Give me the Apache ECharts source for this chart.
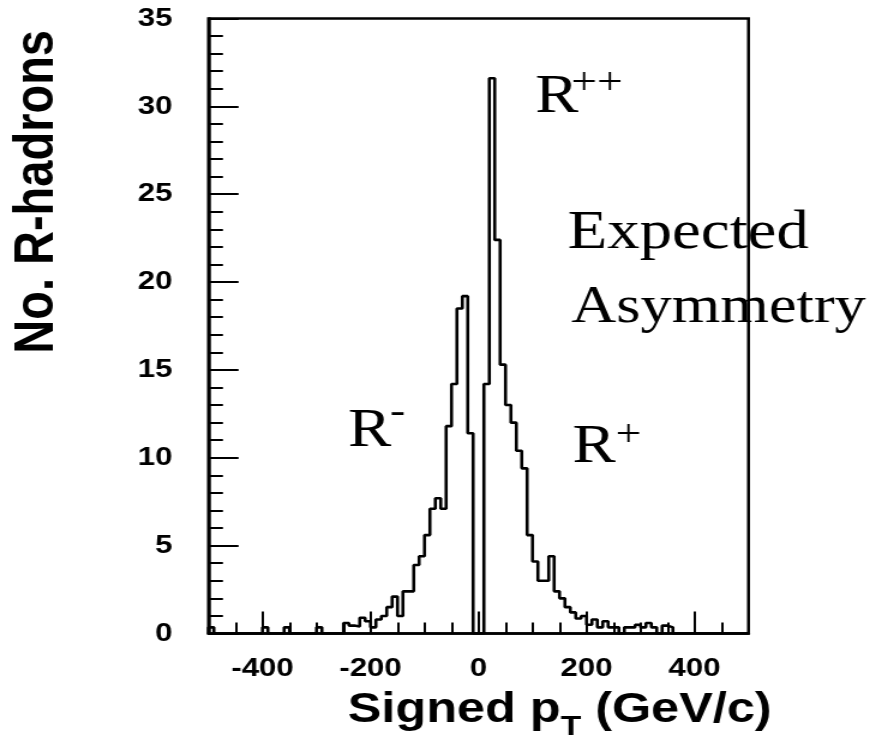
<!DOCTYPE html>
<html>
<head>
<meta charset="utf-8">
<script src="https://cdn.jsdelivr.net/npm/echarts@6/dist/echarts.min.js"></script>
<style>
  html, body { margin: 0; padding: 0; background: #fff; overflow: hidden; }
  #wrap { width: 888px; height: 753px; overflow: hidden; }
  /* the figure is drawn narrow and widened horizontally */
  #chart { width: 740px; height: 753px; transform: scaleX(1.2); transform-origin: 0 0; }
</style>
</head>
<body>
<div id="wrap"><div id="chart"></div></div>
<script>
// Histogram binning (signed pT, GeV/c)
const binLow = -500;
const binWidth = 10;

// Entries per 10 GeV/c bin, from -500 to +500
const counts = [
  0.35, 0, 0, 0, 0, 0, 0, 0, 0, 0,          // -500 .. -400
  0.35, 0, 0, 0, 0.35, 0, 0, 0, 0, 0,       // -400 .. -300
  0.35, 0, 0, 0, 0, 0.6, 0.45, 0.4, 0.9, 0.7, // -300 .. -200
  0.35, 0.8, 1.0, 1.5, 2.1, 1.0, 2.4, 2.4, 3.9, 4.4, // -200 .. -100
  5.6, 7.1, 7.7, 7.1, 11.8, 14.2, 18.5, 19.2, 11.4, 0, // -100 .. 0
  0, 14.2, 31.6, 22.4, 15.3, 13.0, 12.0, 10.4, 9.4, 5.6, // 0 .. 100
  4.1, 3.0, 3.0, 4.4, 2.4, 2.0, 1.5, 1.2, 0.85, 1.0,     // 100 .. 200
  0.5, 0.8, 0.35, 0.7, 0.35, 0.35, 0, 0.35, 0.35, 0.5,   // 200 .. 300
  0.35, 0.6, 0.35, 0, 0.45, 0.35, 0, 0, 0, 0,            // 300 .. 400
  0, 0, 0, 0, 0, 0, 0, 0, 0, 0                           // 400 .. 500
];

const xLabelValues = [-400, -200, 0, 200, 400];
const yMax = 35;
const yStep = 5;

// Step outline points: left edge of every bin, closed at the upper edge
const outline = [[binLow, 0]];
counts.forEach((c, i) => outline.push([binLow + i * binWidth, c]));
outline.push([binLow + counts.length * binWidth, counts[counts.length - 1]]);

const tickFont = { color: '#000', fontFamily: 'Liberation Sans', fontWeight: 'bold', fontSize: 26 };
const serif = '"Liberation Serif", "Times New Roman", serif';

const chart = echarts.init(document.getElementById('chart'), null, { renderer: 'canvas' });

chart.setOption({
  animation: false,
  backgroundColor: '#fff',
  grid: {
    left: 173.75, right: 116.25, top: 18.5, bottom: 119.5,
    show: true, borderColor: '#000', borderWidth: 2.5, backgroundColor: 'transparent'
  },
  xAxis: [
    {
      type: 'value', min: binLow, max: binLow + counts.length * binWidth, interval: 50,
      axisLine: { show: true, onZero: false, lineStyle: { color: '#000', width: 2.5 } },
      axisTick: { show: true, inside: true, length: 11, lineStyle: { color: '#000', width: 2 } },
      axisLabel: Object.assign({ margin: 22, formatter: v => xLabelValues.includes(v) ? String(v) : '' }, tickFont),
      splitLine: { show: false }
    },
    {
      type: 'value', min: binLow, max: binLow + counts.length * binWidth, position: 'bottom',
      axisLine: { show: false, onZero: false },
      axisTick: { show: true, inside: true, length: 22, customValues: xLabelValues, lineStyle: { color: '#000', width: 2 } },
      axisLabel: { show: false },
      splitLine: { show: false }
    }
  ],
  yAxis: {
    type: 'value', min: 0, max: yMax, interval: yStep, position: 'left',
    axisLine: { show: true, onZero: false, lineStyle: { color: '#000', width: 2.5 } },
    axisTick: { show: true, inside: true, length: 25, lineStyle: { color: '#000', width: 2 } },
    minorTick: { show: true, splitNumber: 5, length: 12, lineStyle: { color: '#000', width: 2 } },
    axisLabel: Object.assign({ margin: 30 }, tickFont),
    splitLine: { show: false },
    minorSplitLine: { show: false }
  },
  series: [{
    type: 'line',
    xAxisIndex: 0,
    data: outline,
    step: 'end',
    showSymbol: false,
    clip: true,
    lineStyle: { color: '#000', width: 2.6 },
    z: 5
  }],
  graphic: [
    {
      type: 'text', x: 31, y: 30, rotation: Math.PI / 2,
      style: { text: 'No. R-hadrons', fill: '#000', font: 'bold 47px "Liberation Sans"', align: 'right', verticalAlign: 'middle' }
    },
    {
      type: 'text', x: 643, y: 715,
      style: {
        text: '{a|Signed p}{t|T}{a| (GeV/c)}', fill: '#000', align: 'right', verticalAlign: 'middle',
        rich: {
          a: { fontFamily: 'Liberation Sans', fontWeight: 'bold', fontSize: 42, padding: [0, 0, 10, 0], verticalAlign: 'bottom' },
          t: { fontFamily: 'Liberation Sans', fontWeight: 'bold', fontSize: 28, verticalAlign: 'bottom' }
        }
      }
    },
    { type: 'text', x: 446, y: 98, style: { text: 'R', fill: '#000', font: '54px ' + serif, align: 'left', verticalAlign: 'middle' } },
    { type: 'text', x: 476, y: 84, style: { text: '++', fill: '#000', font: '38px ' + serif, align: 'left', verticalAlign: 'middle' } },
    { type: 'text', x: 473, y: 234, style: { text: 'Expected', fill: '#000', font: '54px ' + serif, align: 'left', verticalAlign: 'middle' } },
    { type: 'text', x: 476, y: 308, style: { text: 'Asymmetry', fill: '#000', font: '52px ' + serif, align: 'left', verticalAlign: 'middle' } },
    { type: 'text', x: 290, y: 432, style: { text: 'R', fill: '#000', font: '54px ' + serif, align: 'left', verticalAlign: 'middle' } },
    { type: 'text', x: 325, y: 413, style: { text: '-', fill: '#000', font: '38px ' + serif, align: 'left', verticalAlign: 'middle' } },
    { type: 'text', x: 477, y: 448, style: { text: 'R', fill: '#000', font: '54px ' + serif, align: 'left', verticalAlign: 'middle' } },
    { type: 'text', x: 513, y: 436, style: { text: '+', fill: '#000', font: '38px ' + serif, align: 'left', verticalAlign: 'middle' } }
  ]
});
</script>
</body>
</html>
